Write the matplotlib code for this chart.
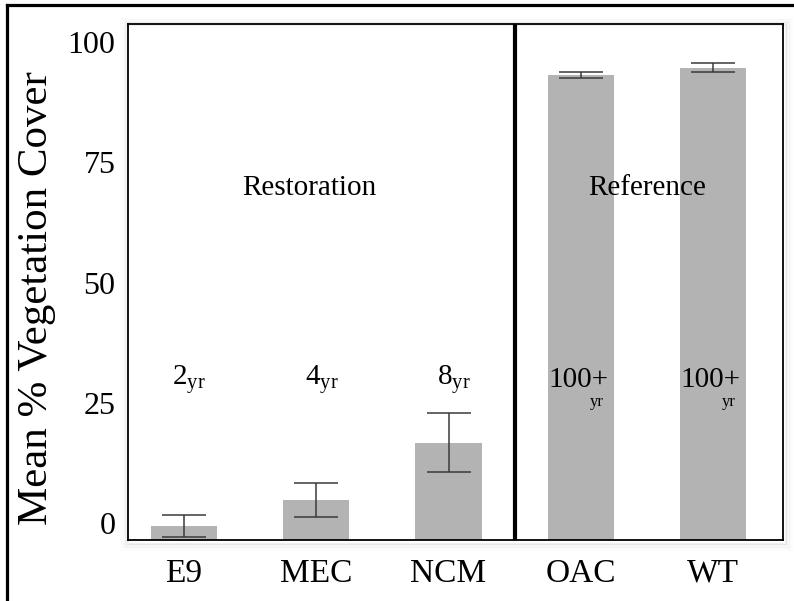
import matplotlib
matplotlib.use("Agg")
import matplotlib.pyplot as plt
import matplotlib.transforms as mtransforms
from matplotlib.patches import Rectangle
from matplotlib.lines import Line2D

# datos
sitios = ["E9", "MEC", "NCM", "OAC", "WT"]
cobertura = [2.9, 8.3, 20.2, 96.7, 98.2]
error = [2.2, 3.5, 6.1, 0.6, 0.9]
edades = ["2", "4", "8", "100+", "100+"]
grupos = ["Restoration", "Reference"]
yticks = [0, 25, 50, 75, 100]

plt.rcParams["font.family"] = ["Liberation Serif", "DejaVu Serif"]
plt.rcParams["mathtext.fontset"] = "custom"
plt.rcParams["mathtext.rm"] = "Liberation Serif"

fig = plt.figure(figsize=(7.94, 6.01), dpi=100)
W, H = 794, 601
ax = fig.add_axes([128 / W, 1 - 540 / H, (783 - 128) / W, (540 - 24) / H])

# sombra suave alrededor del marco
for i, a in enumerate([0.06, 0.04, 0.03, 0.02, 0.012]):
    d = (i + 1) * 1.5
    fig.patches.append(Rectangle(((128 - d + 1) / W, 1 - (540 + d + 2) / H),
                                 (783 - 128 + 2 * d) / W, (540 - 24 + 2 * d) / H,
                                 transform=fig.transFigure, facecolor="none",
                                 edgecolor="black", alpha=a, lw=1.5, zorder=0))

x = list(range(len(sitios)))
ax.bar(x, cobertura, width=0.5, color="#b3b3b3", zorder=2)
ax.errorbar(x, cobertura, yerr=error, fmt="none", ecolor="#3a3a3a",
            elinewidth=1.1, capsize=15.5, capthick=1.1, zorder=3)

ax.axvline(2.5, color="black", lw=3, zorder=4)

ax.set_xlim(-0.4234, 4.529)
ax.set_ylim(0, (540 - 24) / 4.81)
ax.set_xticks(x)
ax.set_xticklabels(sitios, fontsize=24)
ax.set_yticks(yticks)
ax.set_yticklabels([str(t) for t in yticks], fontsize=23)
ax.tick_params(axis="both", length=0)
ax.tick_params(axis="x", pad=13)
ax.tick_params(axis="y", pad=9)

# etiquetas del eje y un poco desplazadas hacia arriba, como en el original
off = mtransforms.ScaledTranslation(0, 17 / 100, fig.dpi_scale_trans)
for lab in ax.get_yticklabels():
    lab.set_transform(lab.get_transform() + off)

for s in ax.spines.values():
    s.set_linewidth(1.3)

# textos de grupo
ax.text(0.95, 73.2, grupos[0], fontsize=21, ha="center", va="center", zorder=5)
ax.text(3.5, 73.2, grupos[1], fontsize=21, ha="center", va="center", zorder=5)

# edades
for i, e in enumerate(edades):
    if e == "100+":
        ax.text(i - 0.02, 33.3, e, fontsize=21, ha="center", va="center", zorder=5)
        ax.text(i + 0.12, 28.6, "yr", fontsize=12, ha="center", va="center", zorder=5)
    else:
        ax.text(i + 0.04, 33.3, e + r"$_{\mathrm{yr}}$", fontsize=21,
                ha="center", va="center", zorder=5)

fig.text(37 / W, 1 - 298 / H, "Mean % Vegetation Cover", fontsize=31,
         rotation=90, ha="center", va="center")

# marco exterior (recortado a la derecha y abajo)
fig.add_artist(Line2D([7 / W, 1], [1 - 5 / H, 1 - 5 / H], transform=fig.transFigure,
                      color="black", lw=2.3))
fig.add_artist(Line2D([7 / W, 7 / W], [0, 1 - 5 / H], transform=fig.transFigure,
                      color="black", lw=2.3))

fig.savefig("out.png", dpi=100)
